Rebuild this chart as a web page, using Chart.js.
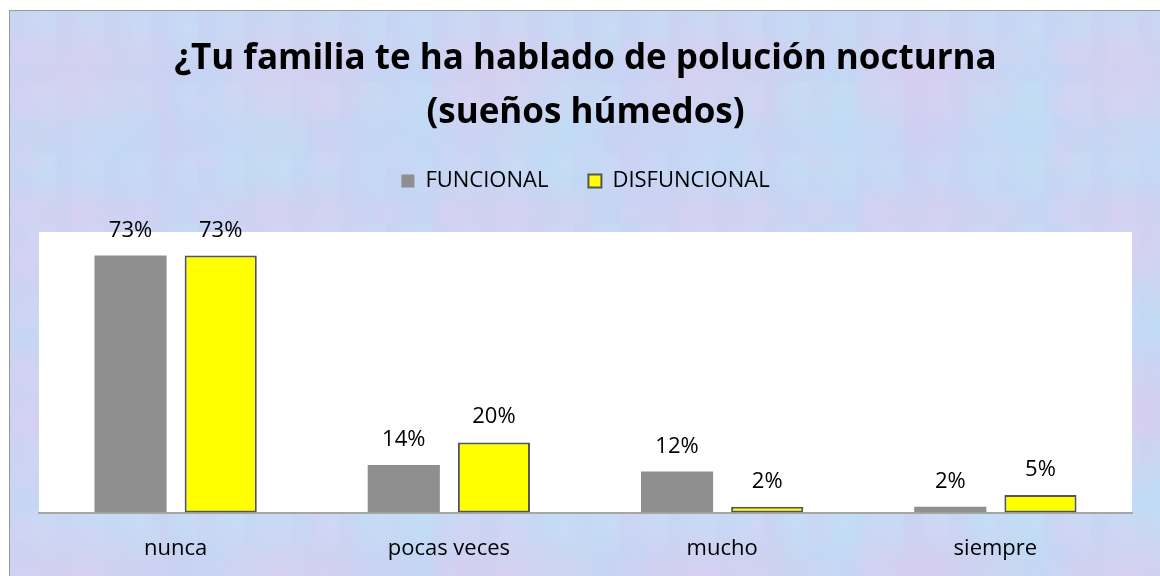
<!DOCTYPE html>
<html>
<head>
<meta charset="utf-8">
<script src="https://cdn.jsdelivr.net/npm/chart.js@4"></script>
<style>
  html, body { margin: 0; padding: 0; background: #fff; }
  body { width: 1160px; height: 576px; position: relative; overflow: hidden; }
  #frame {
    position: absolute; left: 9px; top: 10px; width: 1160px; height: 576px;
    border-left: 1px solid #9a9a9a; border-top: 1px solid #9a9a9a;
    background-color: #c6d5f3;
    background-image:
      radial-gradient(ellipse at 30% 40%, rgba(232, 200, 236, 0.45), rgba(232, 200, 236, 0) 55%),
      radial-gradient(ellipse at 70% 60%, rgba(186, 226, 246, 0.5), rgba(186, 226, 246, 0) 60%),
      radial-gradient(ellipse at 50% 50%, rgba(208, 200, 244, 0.4), rgba(208, 200, 244, 0) 60%),
      radial-gradient(ellipse at 20% 80%, rgba(220, 210, 242, 0.35), rgba(220, 210, 242, 0) 50%),
      radial-gradient(ellipse at 80% 20%, rgba(200, 232, 248, 0.35), rgba(200, 232, 248, 0) 50%);
    background-size: 211px 167px, 149px 193px, 263px 241px, 61px 53px, 47px 71px;
  }
  #chart { position: absolute; left: 0; top: 0; }
</style>
</head>
<body>
<div id="frame"><canvas id="chart" width="1150" height="576"></canvas></div>
<script>
const categories = ['nunca', 'pocas veces', 'mucho', 'siempre'];
const funcional = [73.3, 13.6, 11.7, 1.7];
const disfuncional = [73.3, 20.0, 1.7, 5.0];

const titleLines = ['¿Tu familia te ha hablado de polución nocturna', '(sueños húmedos)'];

// white plot area behind the bars
const plotBackground = {
  id: 'plotBackground',
  beforeDraw(chart) {
    const { ctx, chartArea } = chart;
    ctx.save();
    ctx.fillStyle = '#ffffff';
    ctx.fillRect(chartArea.left, chartArea.top, chartArea.right - chartArea.left, chartArea.bottom - chartArea.top);
    ctx.restore();
  }
};

// percent labels above each bar
const barLabels = {
  id: 'barLabels',
  afterDatasetsDraw(chart) {
    const ctx = chart.ctx;
    ctx.save();
    ctx.font = '22px "Open Sans"';
    ctx.fillStyle = '#000';
    ctx.textAlign = 'center';
    ctx.textBaseline = 'alphabetic';
    chart.data.datasets.forEach((ds, i) => {
      chart.getDatasetMeta(i).data.forEach((bar, j) => {
        ctx.fillText(Math.round(ds.data[j]) + '%', bar.x, bar.y - 19);
      });
    });
    ctx.restore();
  }
};

new Chart(document.getElementById('chart'), {
  type: 'bar',
  data: {
    labels: categories,
    datasets: [
      { label: 'FUNCIONAL', data: funcional, backgroundColor: '#8f8f8f', borderWidth: 0 },
      { label: 'DISFUNCIONAL', data: disfuncional, backgroundColor: '#ffff00', borderColor: '#555555', borderWidth: 2, borderSkipped: false }
    ]
  },
  options: {
    responsive: false,
    animation: false,
    categoryPercentage: 0.66,
    barPercentage: 0.8,
    layout: { padding: { left: 29, right: 28, top: 0, bottom: 2 } },
    plugins: {
      title: {
        display: true,
        text: titleLines,
        color: '#000',
        font: { family: 'Open Sans', size: 35, weight: 'bold', lineHeight: 1.543 },
        padding: { top: 21, bottom: -10 }
      },
      // empty subtitle used as a gap between legend and plot
      subtitle: {
        display: true,
        text: '',
        weight: 500,
        font: { size: 30, lineHeight: 1 },
        padding: 0
      },
      legend: {
        position: 'top',
        labels: {
          color: '#000',
          font: { family: 'Open Sans', size: 22 },
          boxWidth: 13,
          boxHeight: 13,
          padding: 40
        }
      },
      tooltip: { enabled: false }
    },
    scales: {
      x: {
        grid: { display: false, drawTicks: false },
        border: { display: true, color: '#a6a6a6', width: 2 },
        ticks: { color: '#000', font: { family: 'Open Sans', size: 22 }, padding: 23 }
      },
      y: { display: false, min: 0, max: 80 }
    }
  },
  plugins: [plotBackground, barLabels]
});
</script>
</body>
</html>
